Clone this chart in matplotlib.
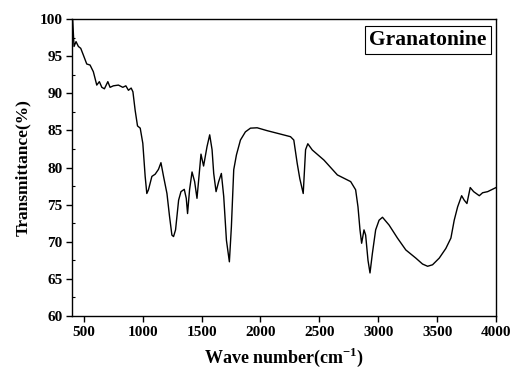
import matplotlib
matplotlib.use("Agg")
import matplotlib.pyplot as plt
from matplotlib.ticker import MultipleLocator

wavenumber = [400, 406, 417, 434, 454, 474, 496, 525, 553, 581, 610, 632, 653, 675, 704,
              723, 751, 794, 831, 857, 879, 902, 917, 936, 956, 979, 1001, 1021, 1035,
              1049, 1078, 1106, 1134, 1155, 1177, 1206, 1228, 1248, 1262, 1279, 1305,
              1325, 1353, 1370, 1381, 1398, 1419, 1441, 1461, 1478, 1495, 1517, 1546,
              1569, 1589, 1603, 1623, 1645, 1668, 1688, 1711, 1736, 1753, 1773, 1796,
              1830, 1872, 1915, 1972, 2057, 2170, 2255, 2283, 2312, 2334, 2363, 2383,
              2402, 2440, 2539, 2653, 2766, 2808, 2828, 2845, 2859, 2879, 2893, 2913,
              2930, 2950, 2978, 3007, 3036, 3092, 3163, 3234, 3319, 3376, 3419, 3461,
              3518, 3574, 3617, 3645, 3674, 3708, 3730, 3753, 3781, 3810, 3858, 3886,
              3929, 4000]
transmittance = [99.9, 99.8, 96.3, 96.95, 96.3, 96.05, 95.15, 93.94, 93.8, 92.9, 91.1,
                 91.56, 90.8, 90.6, 91.56, 90.8, 91.0, 91.1, 90.8, 91.0, 90.4, 90.7,
                 90.2, 87.7, 85.6, 85.3, 83.26, 78.8, 76.5, 77.0, 78.8, 79.1, 79.75,
                 80.65, 78.8, 76.5, 73.4, 70.9, 70.7, 71.6, 75.6, 76.75, 77.06, 75.85,
                 73.8, 77.0, 79.4, 78.1, 75.85, 78.8, 81.8, 80.2, 82.8, 84.4, 82.4,
                 79.2, 76.75, 78.1, 79.2, 76.1, 70.2, 67.3, 72.0, 79.7, 81.7, 83.7,
                 84.8, 85.3, 85.35, 84.96, 84.5, 84.15, 83.7, 80.55, 78.5, 76.5, 82.4,
                 83.2, 82.36, 81.0, 79.0, 78.1, 77.0, 74.7, 71.6, 69.8, 71.6, 70.9,
                 67.5, 65.8, 68.4, 71.6, 72.9, 73.3, 72.25, 70.5, 68.9, 67.8, 67.0,
                 66.7, 66.9, 67.8, 69.1, 70.5, 72.9, 74.7, 76.2, 75.6, 75.15, 77.3,
                 76.75, 76.2, 76.6, 76.75, 77.3]

x_ticks = [500, 1000, 1500, 2000, 2500, 3000, 3500, 4000]
y_ticks = [60, 65, 70, 75, 80, 85, 90, 95, 100]
label_text = "Granatonine"

plt.rcParams['font.family'] = ['Liberation Serif', 'DejaVu Serif']
plt.rcParams['font.weight'] = 'bold'
plt.rcParams['mathtext.fontset'] = 'custom'
plt.rcParams['mathtext.rm'] = 'Liberation Serif'
plt.rcParams['mathtext.bf'] = 'Liberation Serif:bold'

fig = plt.figure(figsize=(5.13, 3.71), dpi=100)
ax = fig.add_axes([0.1404, 0.1482, 0.8265, 0.8006])
ax.plot(wavenumber, transmittance, color='black', lw=1.0, solid_joinstyle='round')
ax.set_xlim(400, 4000)
ax.set_ylim(60, 100)
ax.set_xticks(x_ticks)
ax.set_yticks(y_ticks)
ax.yaxis.set_minor_locator(MultipleLocator(2.5))
ax.tick_params(axis='both', which='major', direction='out', length=4, width=1,
               labelsize=11, top=False, right=False, pad=3)
ax.tick_params(axis='y', which='minor', direction='in', length=2.5, width=0.8)
for lab in ax.get_xticklabels() + ax.get_yticklabels():
    lab.set_fontweight('bold')
for sp in ax.spines.values():
    sp.set_linewidth(1.0)

ax.set_xlabel('Wave number(cm$^{\\mathbf{-1}}$)', fontsize=13, fontweight='bold', labelpad=5)
ax.set_ylabel('Transmittance(%)', fontsize=12.5, fontweight='bold', labelpad=6)

ax.text(0.978, 0.962, label_text, transform=ax.transAxes, ha='right', va='top',
        fontsize=15.5, fontweight='bold',
        bbox=dict(boxstyle='square,pad=0.18', facecolor='white', edgecolor='black', lw=0.8))

fig.savefig('out.png', dpi=100)
